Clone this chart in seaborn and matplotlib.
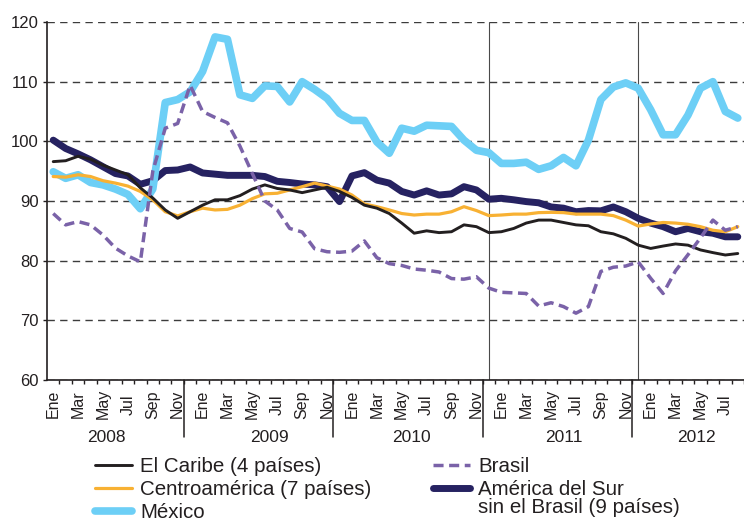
import numpy as np
import pandas as pd
import matplotlib
matplotlib.use("Agg")
import matplotlib.pyplot as plt
import matplotlib.transforms as mtransforms
import seaborn as sns

# ---------------- data ----------------
months = ["Ene", "Feb", "Mar", "Abr", "May", "Jun", "Jul", "Ago", "Sep", "Oct", "Nov", "Dic"]
years = ["2008", "2009", "2010", "2011", "2012"]

caribe = [96.6, 96.75, 97.5, 97.0, 96.0, 95.2, 94.4, 92.2, 90.5, 88.5,
          87.1, 88.2, 89.3, 90.2, 90.2, 90.9, 92.0, 92.7, 92.1, 91.85,
          91.4, 91.85, 92.3, 91.6, 90.6, 89.3, 88.8, 87.9, 86.3, 84.6,
          85.0, 84.7, 84.85, 86.0, 85.7, 84.7, 84.85, 85.4, 86.3, 86.8,
          86.8, 86.4, 86.0, 85.85, 84.85, 84.5, 83.75, 82.6, 82.05, 82.45,
          82.8, 82.6, 81.8, 81.35, 80.95, 81.2]
centro = [94.1, 94.0, 94.4, 94.1, 93.4, 93.0, 92.5, 91.6, 90.2, 88.2,
          87.5, 88.2, 88.8, 88.5, 88.6, 89.3, 90.4, 91.2, 91.3, 91.85,
          92.4, 93.0, 92.5, 92.0, 91.0, 89.5, 89.05, 88.5, 87.9, 87.65,
          87.8, 87.8, 88.2, 89.05, 88.4, 87.55, 87.65, 87.8, 87.8, 88.05,
          88.1, 88.05, 87.8, 87.8, 87.8, 87.55, 86.8, 85.8, 86.15, 86.4,
          86.3, 86.1, 85.7, 85.1, 84.85, 85.7]
mexico = [94.9, 93.8, 94.4, 93.1, 92.7, 92.0, 91.1, 88.7, 92.0, 106.5,
          107.0, 108.3, 111.7, 117.5, 117.1, 107.8, 107.2, 109.3, 109.2, 106.6,
          110.0, 108.7, 107.2, 104.7, 103.5, 103.5, 99.9, 98.0, 102.2, 101.7,
          102.7, 102.6, 102.5, 100.2, 98.5, 98.1, 96.3, 96.3, 96.5, 95.3,
          95.9, 97.3, 95.9, 100.2, 107.0, 109.1, 109.8, 108.9, 105.3, 101.1,
          101.1, 104.4, 108.9, 110.0, 105.0, 103.9]
brasil = [87.9, 86.0, 86.55, 86.0, 84.3, 82.1, 80.8, 79.8, 95.0, 102.2,
          103.0, 109.4, 105.0, 104.0, 103.1, 99.2, 94.6, 90.0, 88.5, 85.4,
          84.8, 82.0, 81.5, 81.4, 81.6, 83.3, 80.5, 79.5, 79.2, 78.6,
          78.4, 78.1, 77.0, 76.9, 77.3, 75.4, 74.7, 74.6, 74.5, 72.4,
          72.95, 72.3, 71.2, 72.3, 78.2, 78.9, 79.1, 79.8, 77.05, 74.5,
          78.3, 81.0, 83.8, 86.8, 85.1, 85.7]
sur = [100.2, 98.8, 97.9, 96.9, 95.75, 94.6, 94.2, 92.8, 93.4, 95.1,
       95.2, 95.7, 94.7, 94.5, 94.3, 94.3, 94.3, 94.1, 93.3, 93.1,
       92.85, 92.7, 92.4, 89.9, 94.2, 94.75, 93.5, 93.0, 91.6, 91.0,
       91.7, 91.0, 91.2, 92.4, 91.85, 90.3, 90.45, 90.2, 89.9, 89.7,
       89.0, 88.8, 88.2, 88.4, 88.35, 89.0, 88.2, 87.1, 86.3, 85.7,
       84.85, 85.4, 84.85, 84.6, 84.0, 84.0]

labels = {
    "caribe": "El Caribe (4 países)",
    "centro": "Centroamérica (7 países)",
    "mexico": "México",
    "brasil": "Brasil",
    "sur": "América del Sur",
}
sur_second_line = "sin el Brasil (9 países)"

n = len(caribe)
idx = np.arange(n)
df = pd.DataFrame({"idx": idx, "caribe": caribe, "centro": centro,
                   "mexico": mexico, "brasil": brasil, "sur": sur})

# ---------------- style ----------------
sns.set_theme(style="white")
plt.rcParams["font.family"] = ["Liberation Sans", "DejaVu Sans"]
plt.rcParams["text.color"] = "#231f20"

W, H = 744, 525
fig = plt.figure(figsize=(W / 100, H / 100), dpi=100)
ax = fig.add_axes([47 / W, 145 / H, 697 / W, 358 / H])

colors = {"caribe": "#231f20", "centro": "#f8b133", "mexico": "#6dcff6",
          "brasil": "#7a62a8", "sur": "#262261"}
widths = {"caribe": 2.1, "centro": 2.3, "mexico": 5.5, "brasil": 2.5, "sur": 5.0}

draw_order = ["sur", "mexico", "centro", "caribe", "brasil"]
lines = {}
for key in draw_order:
    kws = dict(solid_capstyle="round", solid_joinstyle="round")
    if key == "brasil":
        kws = dict(dash_capstyle="butt", dash_joinstyle="round")
    sns.lineplot(data=df, x="idx", y=key, ax=ax, color=colors[key],
                 lw=widths[key], errorbar=None, label=labels[key], **kws)
    lines[key] = ax.get_lines()[-1]
lines["brasil"].set_linestyle((0, (2.9, 1.6)))
if ax.get_legend() is not None:
    ax.get_legend().remove()

ax.set_xlim(-0.5, n - 0.5)
ax.set_ylim(60, 120)
ax.set_xlabel("")
ax.set_ylabel("")

# y axis
ax.set_yticks(np.arange(60, 121, 10))
ax.tick_params(axis="y", which="major", length=3, width=1, color="#231f20",
               direction="out", labelsize=12, pad=3, labelcolor="#231f20", left=True)
ax.yaxis.grid(True, color="#3c3c3c", lw=1.0, linestyle=(0, (5.3, 3.8)))
ax.xaxis.grid(False)
ax.set_axisbelow(True)

# x axis: month labels every two months, ticks between months
major = idx[::2]
ax.set_xticks(major)
ax.set_xticklabels([months[i % 12] for i in major])
ax.set_xticks(idx + 0.5, minor=True)
ax.tick_params(axis="x", which="major", length=0, pad=17.5, labelsize=11.5,
               labelrotation=90, labelcolor="#231f20", bottom=True)
ax.tick_params(axis="x", which="minor", length=3, width=1, color="#231f20",
               direction="out", bottom=True)
for t in ax.get_xticklabels():
    t.set_va("center")

for s in ["top", "right"]:
    ax.spines[s].set_visible(False)
for s in ["left", "bottom"]:
    ax.spines[s].set_color("#231f20")
    ax.spines[s].set_linewidth(1.2)

# vertical reference lines inside the plot
for v in [35, 47]:
    ax.axvline(v, color="#4a4a4a", lw=0.8, zorder=1)

# year separators and year labels under the axis
trans = mtransforms.blended_transform_factory(ax.transData, ax.transAxes)
for s in [10.5, 22.5, 34.5, 46.5]:
    ax.plot([s, s], [0, -57 / 358], transform=trans, color="#231f20",
            lw=1.1, clip_on=False)
year_pos = [4.3, 17.4, 28.8, 41.0, 51.7]
for yp, yl in zip(year_pos, years):
    ax.text(yp, -58 / 358, yl, transform=trans, ha="center", va="center",
            fontsize=12.5, color="#231f20")

# legend
order = ["caribe", "centro", "mexico", "brasil", "sur"]
leg = fig.legend([lines[k] for k in order], [labels[k] for k in order],
                 loc="upper left", bbox_to_anchor=(95 / W, 1 - 457 / H),
                 ncol=2, frameon=False, fontsize=14.8, handlelength=1.8,
                 handletextpad=0.4, columnspacing=3.0, labelspacing=0.2,
                 borderpad=0, borderaxespad=0)

fig.canvas.draw()
tsur = leg.get_texts()[-1]
bb = tsur.get_window_extent()
yc = (bb.y0 + bb.y1) / 2 - 18
fig.text(bb.x0 / W, yc / H, sur_second_line, ha="left", va="center",
         fontsize=14.8, color="#231f20")

fig.savefig("out.png", dpi=100)
